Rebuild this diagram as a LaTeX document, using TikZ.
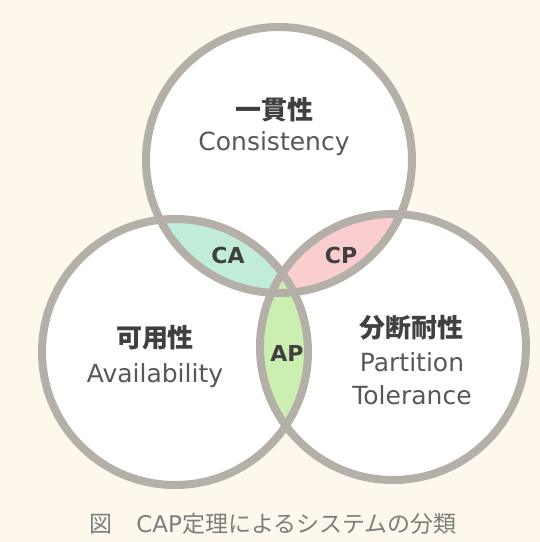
\documentclass[tikz,border=0pt]{standalone}
\usepackage{fontspec}
\setmainfont{DejaVu Sans}
\newfontfamily\jpfont{Noto Sans CJK JP}
\definecolor{bgcream}{RGB}{253,248,235}
\definecolor{ringgray}{RGB}{180,176,167}
\definecolor{lensCA}{RGB}{193,236,216}
\definecolor{lensCP}{RGB}{250,206,206}
\definecolor{lensAP}{RGB}{203,239,176}
\definecolor{txtdark}{RGB}{64,64,64}
\definecolor{txtmid}{RGB}{88,88,88}
\definecolor{txtcap}{RGB}{125,125,125}

\begin{document}
\begin{tikzpicture}[
    x=1pt, y=-1pt,
    rim/.style={draw=ringgray, line width=8pt},
    jptitle/.style={font=\jpfont\bfseries\fontsize{26}{30}\selectfont,
                    text=txtdark, inner sep=0pt},
    entitle/.style={font=\fontsize{25}{33}\selectfont, text=txtmid,
                    align=center, inner sep=0pt},
    lens/.style={font=\bfseries\fontsize{22}{26}\selectfont, text=txtdark,
                 inner sep=0pt},
]

% --- BACKGROUND ---
\fill[bgcream] (0,0) rectangle (540,542);
\useasboundingbox (0,0) rectangle (540,542);

% --- CIRCLE CENTRES ---
\coordinate (cC) at (279,160);
\coordinate (cA) at (175,352);
\coordinate (cP) at (393,347);

\fill[white] (cC) circle (133);
\fill[white] (cA) circle (133);
\fill[white] (cP) circle (133);

% --- OVERLAPS ---
\begin{scope}
  \clip (cC) circle (133);
  \fill[lensCA] (cA) circle (133);
  \fill[lensCP] (cP) circle (133);
\end{scope}
\begin{scope}
  \clip (cA) circle (133);
  \fill[lensAP] (cP) circle (133);
\end{scope}

\draw[rim] (cC) circle (133);
\draw[rim] (cA) circle (133);
\draw[rim] (cP) circle (133);

% --- LABELS ---
\node[jptitle] (Cjp) at (274,110) {一貫性};
\node[entitle] (Cen) at (274,144) {Consistency};

\node[jptitle] (Ajp) at (155,338) {可用性};
\node[entitle] (Aen) at (155,376) {Availability};

\node[jptitle] (Pjp) at (411,328) {分断耐性};
\node[entitle] (Pen) at (412,379) {Partition\\Tolerance};

\node[lens] (CA) at (228,255) {CA};
\node[lens] (CP) at (341,255) {CP};
\node[lens] (AP) at (287,353) {AP};

% --- CAPTION ---
\node[font=\fontsize{23}{27}\selectfont, text=txtcap, inner sep=0pt]
    (cap) at (273,524) {{\jpfont 図}\hspace{24pt}CAP{\jpfont 定理によるシステムの分類}};

\end{tikzpicture}
\end{document}
